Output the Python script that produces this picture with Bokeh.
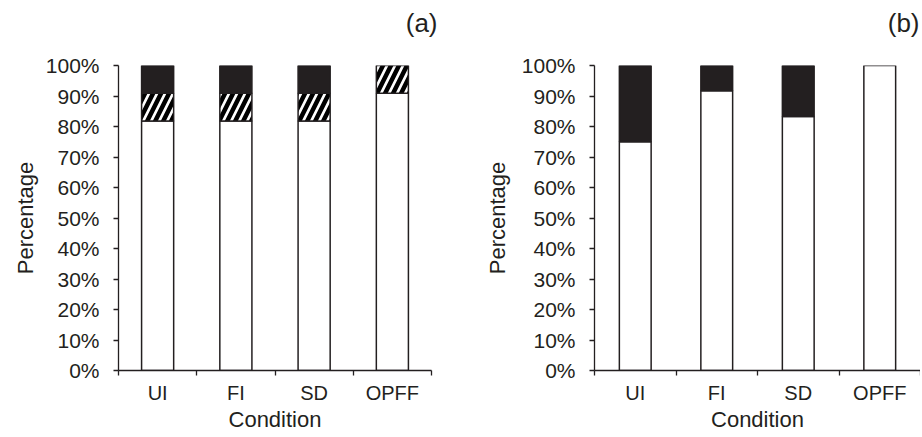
from bokeh.plotting import figure
from bokeh.layouts import row, column
from bokeh.models import Range1d, FixedTicker, PrintfTickFormatter
from bokeh.core.properties import value
from bokeh.embed import file_html
from bokeh.resources import INLINE

categories = ["UI", "FI", "SD", "OPFF"]
a_white = [81.8, 81.8, 81.8, 90.9]
a_hatch = [9.1, 9.1, 9.1, 9.1]
a_black = [9.1, 9.1, 9.1, 0.0]
b_white = [75.0, 91.7, 83.3, 100.0]
b_black = [25.0, 8.3, 16.7, 0.0]
y_ticks = [0, 10, 20, 30, 40, 50, 60, 70, 80, 90, 100]
panel_titles = ["(a)", "(b)"]

INK = "#231f20"
FONT = "Liberation Sans"
N = len(categories)
xs = [i + 0.5 for i in range(N)]

STRIP_H = 53        # title strip height
TITLE_CY = 22       # title centre (px from top of page)
TOP_B = 12
BOT_B = 65
FRAME_H = 305
PANEL_H = TOP_B + FRAME_H + BOT_B


def title_strip(text, width, right_px):
    t = figure(width=width, height=STRIP_H, output_backend="svg", toolbar_location=None,
               x_range=Range1d(0, width), y_range=Range1d(0, STRIP_H),
               x_axis_location=None, y_axis_location=None,
               min_border_left=0, min_border_right=0, min_border_top=0, min_border_bottom=0)
    t.outline_line_color = None
    t.grid.grid_line_color = None
    t.xgrid.visible = False
    t.ygrid.visible = False
    t.text(x=[right_px], y=[STRIP_H - TITLE_CY], text=[text], text_align="right",
           text_baseline="middle", text_font=value(FONT), text_font_size=value("26px"),
           text_color=INK)
    return t


def make_fig(width, left, right, ylab_standoff):
    p = figure(width=width, height=PANEL_H, output_backend="svg", toolbar_location=None,
               x_range=Range1d(0, N), y_range=Range1d(0, 100),
               min_border_left=left, min_border_right=right,
               min_border_top=TOP_B, min_border_bottom=BOT_B)
    p.outline_line_color = None
    p.xgrid.grid_line_color = None
    p.ygrid.grid_line_color = None
    p.background_fill_color = "white"

    p.yaxis.ticker = FixedTicker(ticks=y_ticks)
    p.yaxis.formatter = PrintfTickFormatter(format="%d%%")
    p.yaxis.axis_label = "Percentage"
    p.xaxis.axis_label = "Condition"
    p.xaxis.ticker = FixedTicker(ticks=xs, minor_ticks=list(range(N + 1)))
    p.xaxis.major_label_overrides = {x: c for x, c in zip(xs, categories)}
    p.xaxis.major_tick_line_color = None
    p.xaxis.major_tick_out = 5
    p.xaxis.major_tick_in = 0
    p.xaxis.minor_tick_line_color = INK
    p.xaxis.minor_tick_in = 0
    p.xaxis.minor_tick_out = 5
    p.xaxis.minor_tick_line_width = 1.3
    p.yaxis.minor_tick_line_color = None
    p.yaxis.major_tick_in = 0
    p.yaxis.major_tick_out = 5
    p.yaxis.major_tick_line_color = INK
    for ax in (p.xaxis, p.yaxis):
        ax.axis_line_color = INK
        ax.axis_line_width = 1.3
        ax.major_tick_line_width = 1.3
        ax.major_label_text_font = FONT
        ax.major_label_text_color = INK
        ax.axis_label_text_font = FONT
        ax.axis_label_text_font_size = "22px"
        ax.axis_label_text_font_style = "normal"
        ax.axis_label_text_color = INK
    p.xaxis.major_label_text_font_size = "20px"
    p.yaxis.major_label_text_font_size = "21px"
    p.yaxis.major_label_standoff = 14
    p.yaxis.axis_label_standoff = ylab_standoff
    p.xaxis.major_label_standoff = 6
    p.xaxis.axis_label_standoff = 0
    return p


# Panel (a): axis 118..431
W1 = 450
pa = make_fig(W1, 118, 19, 5)
ta = title_strip(panel_titles[0], W1, W1 - 19 + 6)
W_A = 0.41
a_b1 = a_white
a_b2 = [w + h for w, h in zip(a_white, a_hatch)]
a_b3 = [w + h + k for w, h, k in zip(a_white, a_hatch, a_black)]
pa.vbar(x=xs, width=W_A, bottom=0, top=a_b1, fill_color="white",
        line_color=INK, line_width=1.5)
pa.vbar(x=xs, width=W_A, bottom=a_b1, top=a_b2, fill_color="white",
        hatch_pattern="/", hatch_color="black", hatch_weight=4.5, hatch_scale=16,
        line_color=INK, line_width=1.5)
a_x3 = [x for x, k in zip(xs, a_black) if k > 0]
a_bot3 = [b for b, k in zip(a_b2, a_black) if k > 0]
a_top3 = [t for t, k in zip(a_b3, a_black) if k > 0]
pa.vbar(x=a_x3, width=W_A, bottom=a_bot3, top=a_top3, fill_color=INK,
        line_color=INK, line_width=1.5)

# Panel (b): axis 594..920
W2 = 470
pb = make_fig(W2, 144, 0, 9)
tb = title_strip(panel_titles[1], W2, W2 - 1)
W_B = 0.39
b_b1 = b_white
b_b2 = [w + k for w, k in zip(b_white, b_black)]
pb.vbar(x=xs, width=W_B, bottom=0, top=b_b1, fill_color="white",
        line_color=INK, line_width=1.5)
b_x2 = [x for x, k in zip(xs, b_black) if k > 0]
b_bot2 = [b for b, k in zip(b_b1, b_black) if k > 0]
b_top2 = [t for t, k in zip(b_b2, b_black) if k > 0]
pb.vbar(x=b_x2, width=W_B, bottom=b_bot2, top=b_top2, fill_color=INK,
        line_color=INK, line_width=1.5)

layout = column(row(ta, tb), row(pa, pb))
open("out.html", "w").write(file_html(layout, INLINE))
